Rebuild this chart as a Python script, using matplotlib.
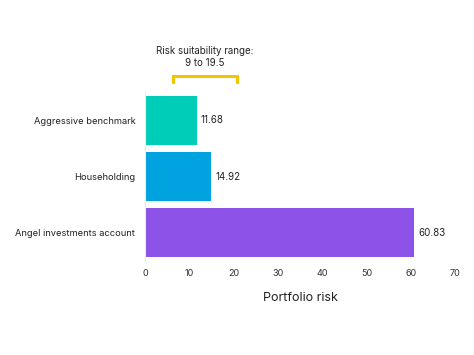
import matplotlib
matplotlib.use("Agg")
import matplotlib.pyplot as plt
import matplotlib.transforms as mtransforms

categories = ["Aggressive benchmark", "Householding", "Angel investments account"]
risk = [11.68, 14.92, 60.83]
colors = ["#00CDB8", "#00A3DF", "#8D52E8"]
xticks = [0, 10, 20, 30, 40, 50, 60, 70]

# suitability bracket as drawn in the picture
bracket_lo = 6.3
bracket_hi = 20.8
bracket_text = "Risk suitability range:\n9 to 19.5"

plt.rcParams["font.family"] = ["Inter", "DejaVu Sans"]

fig = plt.figure(figsize = (4.74, 3.55), dpi = 100)
ax = fig.add_axes([0.306, 0.265, 0.654, 0.475])

ypos = list(range(len(categories)))
ax.barh(ypos, risk, height = 0.87, color = colors)

for y, v in zip(ypos, risk):
    ax.annotate(f"{v:.2f}", (v, y), xytext = (3, 0), textcoords = "offset points",
                va = "center", ha = "left", fontsize = 7, color = "#222222")

ax.set_ylim(2.5, -0.5)
ax.set_xlim(0, 70)
ax.set_xticks(xticks)
ax.set_xticklabels([str(t) for t in xticks], fontsize = 6.5, color = "#333333")
ax.set_yticks(ypos)
ax.set_yticklabels(categories, fontsize = 6.7, color = "#222222")
ax.tick_params(axis = "both", length = 0)
ax.tick_params(axis = "y", pad = 7)
ax.tick_params(axis = "x", pad = 6)

for s in ["top", "right", "bottom"]:
    ax.spines[s].set_visible(False)
ax.spines["left"].set_color("#ececec")
ax.spines["left"].set_linewidth(0.8)

ax.set_xlabel("Portfolio risk", fontsize = 9, color = "#222222", labelpad = 10)

trans = mtransforms.blended_transform_factory(ax.transData, ax.transAxes)
ax.plot([bracket_lo, bracket_lo, bracket_hi, bracket_hi], [1.06, 1.095, 1.095, 1.06],
        color = "#F5C400", linewidth = 2.2, transform = trans, clip_on = False,
        solid_joinstyle = "miter")
ax.text((bracket_lo + bracket_hi) / 2, 1.21, bracket_text, transform = trans,
        ha = "center", va = "center", fontsize = 7, color = "#222222", linespacing = 1.3)

fig.savefig("out.png", dpi = 100)
